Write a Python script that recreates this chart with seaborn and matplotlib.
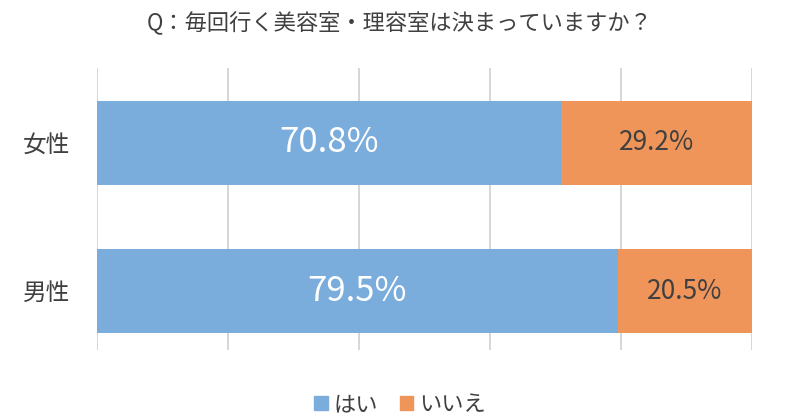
import pandas as pd
import matplotlib.pyplot as plt
import seaborn as sns
from matplotlib.patches import Patch

groups = ['女性', '男性']
yes_pct = [70.8, 79.5]
no_pct = [29.2, 20.5]
series_names = ['はい', 'いいえ']
title = 'Q：毎回行く美容室・理容室は決まっていますか？'

blue = '#7aaddc'
orange = '#f0955a'
text_gray = '#404040'

sns.set_style('white')
plt.rcParams['font.family'] = ['Noto Sans CJK JP', 'DejaVu Sans']

df = pd.DataFrame({'group': groups, 'yes': yes_pct, 'no': no_pct})
df['total'] = df['yes'] + df['no']

fig = plt.figure(figsize=(8, 4.19), dpi=100)
ax = fig.add_axes([0.121, 0.165, 0.819, 0.673])

# stacked: total first (orange), then yes on top (blue)
sns.barplot(data=df, x='total', y='group', orient='h', color=orange,
            width=0.566, saturation=1, linewidth=0, ax=ax, zorder=2)
sns.barplot(data=df, x='yes', y='group', orient='h', color=blue,
            width=0.566, saturation=1, linewidth=0, ax=ax, zorder=3)

ax.set_xlim(0, 100)
ax.set_ylim(1.394, -0.505)
ax.set_xticks([0, 20, 40, 60, 80, 100])
ax.set_xticklabels([])
ax.grid(axis='x', color='#d0d0d0', linewidth=1.2, zorder=0)
ax.grid(axis='y', visible=False)
for s in ax.spines.values():
    s.set_visible(False)
ax.tick_params(axis='both', length=0)
ax.set_xlabel('')
ax.set_ylabel('')
ax.set_yticks([0, 1])
ax.set_yticklabels(groups, fontsize=17, color=text_gray)
ax.tick_params(axis='y', pad=19)

for i, row in df.iterrows():
    ax.text(row['yes'] / 2, i, f"{row['yes']:.1f}%", ha='center', va='center',
            color='white', fontsize=25, zorder=5)
    ax.text(row['yes'] + row['no'] / 2, i, f"{row['no']:.1f}%", ha='center',
            va='center', color=text_gray, fontsize=19, zorder=5)

fig.text(0.5, 0.945, title, ha='center', va='center', fontsize=16,
         color=text_gray)

handles = [Patch(color=blue, label=series_names[0]),
           Patch(color=orange, label=series_names[1])]
fig.legend(handles=handles, loc='center', bbox_to_anchor=(0.5, 0.035), ncol=2,
           frameon=False, fontsize=16, handlelength=0.6, handleheight=0.6,
           handletextpad=0.25, columnspacing=1.0, labelcolor=text_gray)

fig.savefig('out.png', dpi=100)
